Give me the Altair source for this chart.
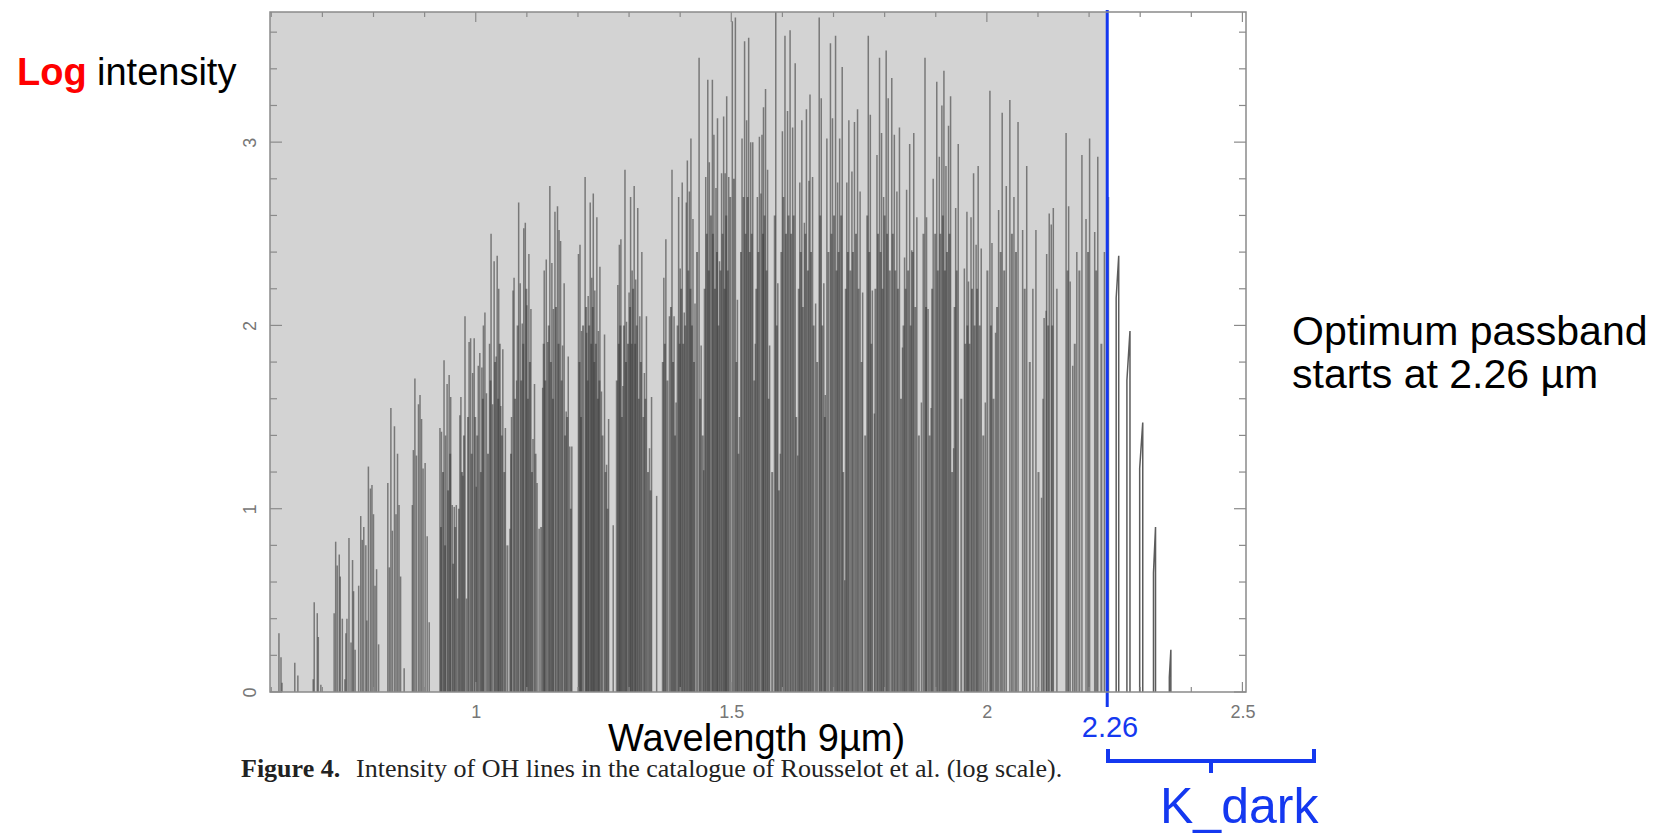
import altair as alt
import pandas as pd

# ---------------- data ----------------
# (wavelength in micron, log intensity) of the stronger OH lines
lines_a = [  # 0.6 - 1.08 micron
    (0.615, 0.32), (0.619, 0.19), (0.621, 0.05), (0.646, 0.16), (0.652, 0.09),
    (0.682, 0.07), (0.684, 0.49), (0.690, 0.43), (0.692, 0.30), (0.697, 0.04),
    (0.723, 0.43), (0.726, 0.82), (0.729, 0.69), (0.733, 0.75), (0.735, 0.63),
    (0.739, 0.40), (0.744, 0.07), (0.746, 0.32), (0.748, 0.40), (0.752, 0.84),
    (0.756, 0.27), (0.759, 0.72), (0.761, 0.55), (0.764, 0.23), (0.771, 0.58),
    (0.775, 0.96), (0.778, 0.83), (0.781, 0.90), (0.785, 0.80), (0.787, 0.39),
    (0.790, 1.23), (0.794, 1.11), (0.797, 1.13), (0.800, 0.97), (0.803, 0.58),
    (0.806, 0.67), (0.810, 0.26), (0.828, 1.14), (0.831, 0.68), (0.834, 1.55),
    (0.837, 0.88), (0.841, 1.45), (0.844, 0.97), (0.847, 1.30), (0.850, 1.02),
    (0.853, 0.63), (0.860, 0.13), (0.876, 1.02), (0.878, 1.32), (0.881, 1.71),
    (0.884, 1.29), (0.888, 1.57), (0.891, 1.62), (0.894, 1.49), (0.897, 1.22),
    (0.901, 1.25), (0.905, 0.85), (0.909, 0.38), (0.930, 1.44), (0.933, 1.42),
    (0.938, 1.81), (0.941, 1.40), (0.944, 1.68), (0.948, 1.73), (0.951, 1.61),
    (0.954, 1.02), (0.958, 1.01), (0.962, 1.02), (0.965, 0.51), (0.969, 1.51),
    (0.971, 1.61), (0.975, 1.18), (0.979, 2.05), (0.982, 0.51), (0.987, 1.91),
    (0.990, 1.93), (0.994, 1.74), (0.997, 1.93), (1.001, 1.12), (1.005, 1.78),
    (1.008, 1.85), (1.012, 1.77), (1.015, 2.00), (1.018, 2.07), (1.021, 1.63),
    (1.027, 1.90), (1.030, 2.50), (1.033, 1.57), (1.036, 2.35), (1.040, 1.83),
    (1.042, 2.38), (1.045, 2.20), (1.049, 1.56), (1.053, 1.87), (1.058, 1.44),
    (1.067, 0.89), (1.070, 1.50), (1.073, 2.19), (1.075, 2.26),
]
lines_b = [  # 1.08 - 1.555 micron
    (1.080, 1.70), (1.084, 2.67), (1.087, 2.23), (1.091, 2.01), (1.094, 2.53),
    (1.097, 2.56), (1.100, 2.11), (1.104, 2.39), (1.108, 2.09), (1.112, 1.38),
    (1.115, 1.68), (1.120, 1.14), (1.124, 0.89), (1.131, 1.66), (1.134, 2.30),
    (1.138, 2.36), (1.141, 1.91), (1.145, 2.76), (1.149, 2.34), (1.152, 2.09),
    (1.155, 2.62), (1.160, 2.65), (1.163, 2.52), (1.166, 2.46), (1.170, 1.89),
    (1.173, 2.23), (1.177, 1.53), (1.181, 1.83), (1.184, 1.34), (1.188, 1.34),
    (1.201, 2.39), (1.204, 2.44), (1.207, 1.97), (1.214, 2.81), (1.217, 1.96),
    (1.220, 2.16), (1.224, 2.67), (1.227, 2.26), (1.230, 2.72), (1.233, 2.19),
    (1.237, 2.59), (1.240, 1.97), (1.243, 2.32), (1.246, 1.64), (1.252, 1.95),
    (1.256, 1.24), (1.260, 1.49), (1.269, 0.91), (1.278, 2.22), (1.281, 2.44),
    (1.284, 2.47), (1.288, 1.67), (1.292, 2.85), (1.295, 2.02), (1.300, 2.18),
    (1.303, 2.70), (1.306, 2.30), (1.310, 2.76), (1.313, 2.25), (1.317, 2.64),
    (1.321, 2.05), (1.325, 2.40), (1.330, 1.74), (1.334, 2.05), (1.340, 1.33),
    (1.344, 1.61), (1.354, 1.07), (1.368, 2.26), (1.372, 2.47), (1.379, 2.05),
    (1.384, 2.85), (1.388, 2.05), (1.392, 1.58), (1.397, 2.70), (1.400, 2.31),
    (1.404, 2.78), (1.408, 2.07), (1.412, 2.67), (1.414, 2.90), (1.418, 2.73),
    (1.421, 3.02), (1.425, 2.58), (1.429, 2.12), (1.437, 3.46), (1.441, 1.89),
    (1.446, 1.21), (1.450, 2.81), (1.454, 3.34), (1.457, 2.89), (1.463, 3.34),
    (1.466, 3.04), (1.470, 2.75), (1.473, 3.13), (1.477, 2.35), (1.481, 2.83),
    (1.485, 3.14), (1.488, 2.83), (1.491, 3.25), (1.495, 2.81), (1.502, 3.66),
    (1.508, 3.68), (1.512, 2.14), (1.516, 1.50), (1.521, 3.02), (1.526, 3.55),
    (1.530, 3.12), (1.534, 3.57), (1.538, 3.00), (1.542, 3.00), (1.547, 1.90),
    (1.551, 2.70), (1.555, 3.03),
]
lines_c = [  # 1.555 - 2.03 micron
    (1.558, 2.72), (1.560, 3.04), (1.563, 3.19), (1.567, 3.29), (1.571, 2.85),
    (1.575, 1.89), (1.587, 3.71), (1.591, 2.23), (1.596, 1.30), (1.600, 3.06),
    (1.605, 3.58), (1.610, 3.17), (1.615, 3.61), (1.620, 3.08), (1.625, 3.43),
    (1.630, 1.29), (1.634, 2.78), (1.638, 3.12), (1.643, 2.56), (1.647, 3.18),
    (1.652, 2.79), (1.654, 3.26), (1.659, 2.81), (1.665, 2.12), (1.672, 3.68),
    (1.676, 3.24), (1.681, 2.23), (1.684, 1.62), (1.687, 3.02), (1.694, 3.54),
    (1.698, 3.13), (1.704, 3.58), (1.708, 2.78), (1.712, 3.02), (1.717, 3.41),
    (1.722, 0.61), (1.726, 2.78), (1.730, 3.12), (1.736, 2.84), (1.741, 3.11),
    (1.747, 3.18), (1.752, 2.73), (1.757, 2.18), (1.768, 3.58), (1.772, 3.15),
    (1.776, 2.19), (1.780, 1.52), (1.785, 2.93), (1.790, 3.46), (1.794, 3.05),
    (1.798, 2.70), (1.803, 3.50), (1.807, 3.24), (1.814, 3.35), (1.819, 3.04),
    (1.824, 2.73), (1.829, 3.08), (1.835, 1.88), (1.839, 2.37), (1.843, 2.74),
    (1.849, 2.99), (1.853, 2.41), (1.857, 3.05), (1.863, 2.59), (1.872, 1.58),
    (1.879, 3.46), (1.882, 2.59), (1.885, 2.09), (1.891, 1.55), (1.895, 2.80),
    (1.902, 3.33), (1.907, 2.92), (1.912, 3.20), (1.916, 3.39), (1.920, 2.87),
    (1.925, 3.09), (1.929, 3.25), (1.935, 1.33), (1.939, 2.64), (1.944, 2.99),
    (1.956, 2.31), (1.961, 2.62), (1.964, 2.24), (1.969, 2.59), (1.974, 2.83),
    (1.979, 2.44), (1.983, 2.87), (1.989, 2.42), (1.997, 1.58), (2.006, 3.28),
    (2.010, 2.45), (2.017, 1.96), (2.023, 2.63), (2.030, 3.16),
]
lines_d = [  # 2.03 - 2.24 micron
    (2.038, 2.76), (2.045, 3.23), (2.053, 2.70), (2.061, 3.11), (2.070, 2.52),
    (2.078, 2.87), (2.090, 2.20), (2.096, 2.52), (2.107, 1.06), (2.110, 1.60),
    (2.112, 2.04), (2.116, 2.08), (2.117, 2.39), (2.122, 2.61), (2.126, 2.55),
    (2.130, 2.64), (2.137, 2.20), (2.155, 3.05), (2.160, 2.65), (2.163, 2.24),
    (2.168, 1.78), (2.176, 2.40), (2.186, 2.93), (2.194, 2.58), (2.201, 3.02),
    (2.211, 2.51), (2.217, 2.92), (2.230, 2.40), (2.238, 2.70),
]
# weaker lines that make up the dark lower part of each band (estimated)
weak_a = [
    (0.932, 0.9), (0.936, 1.2), (0.940, 0.8), (0.946, 1.1), (0.950, 1.3), (0.956, 0.7),
    (0.960, 0.9), (0.967, 1.0), (0.973, 1.2), (0.977, 1.4), (0.985, 1.5), (0.992, 1.3),
    (0.999, 1.5), (1.003, 1.4), (1.010, 1.2), (1.014, 1.6), (1.024, 1.3), (1.029, 1.7),
    (1.038, 1.8), (1.044, 1.6), (1.047, 1.9), (1.051, 1.4), (1.056, 1.2), (1.062, 0.8),
    (1.069, 1.3), (1.077, 1.6),
]
weak_b = [
    (1.082, 2.0), (1.089, 1.7), (1.093, 1.9), (1.099, 2.2), (1.102, 1.6), (1.106, 1.8),
    (1.110, 1.2), (1.117, 1.3), (1.128, 0.9), (1.133, 1.9), (1.136, 1.7), (1.143, 2.0),
    (1.147, 1.8), (1.151, 1.6), (1.157, 2.1), (1.162, 1.9), (1.168, 1.7), (1.175, 1.4),
    (1.179, 1.5), (1.186, 1.0), (1.203, 1.8), (1.206, 1.5), (1.210, 2.0), (1.216, 2.1),
    (1.219, 1.7), (1.222, 2.0), (1.226, 1.9), (1.229, 2.1), (1.232, 1.8), (1.235, 1.9),
    (1.239, 1.6), (1.242, 1.7), (1.248, 1.4), (1.254, 1.2), (1.258, 1.0), (1.276, 1.7),
    (1.280, 1.9), (1.283, 2.0), (1.286, 1.5), (1.290, 2.0), (1.294, 1.8), (1.298, 1.9),
    (1.302, 2.1), (1.305, 1.9), (1.308, 2.2), (1.312, 1.9), (1.315, 2.0), (1.319, 1.6),
    (1.323, 1.8), (1.328, 1.5), (1.332, 1.6), (1.337, 1.2), (1.342, 1.1), (1.366, 1.8),
    (1.370, 1.9), (1.375, 1.7), (1.382, 2.1), (1.386, 1.8), (1.390, 1.4), (1.395, 2.0),
    (1.399, 1.9), (1.402, 2.2), (1.406, 1.9), (1.410, 2.0), (1.416, 2.3), (1.420, 2.2),
    (1.423, 2.0), (1.427, 1.8), (1.433, 2.4), (1.439, 1.6), (1.444, 1.4), (1.448, 2.2),
    (1.452, 2.5), (1.456, 2.3), (1.460, 2.6), (1.464, 2.5), (1.468, 2.2), (1.472, 2.4),
    (1.475, 2.0), (1.479, 2.3), (1.483, 2.5), (1.487, 2.2), (1.490, 2.6), (1.493, 2.3),
    (1.498, 2.7), (1.505, 2.8), (1.510, 1.8), (1.514, 1.3), (1.519, 2.4), (1.524, 2.7),
    (1.528, 2.5), (1.532, 2.7), (1.536, 2.4), (1.540, 2.5), (1.545, 1.7), (1.549, 2.2),
    (1.553, 2.4),
]
weak_c = [
    (1.562, 2.5), (1.565, 2.6), (1.569, 2.3), (1.573, 1.6), (1.580, 1.2), (1.585, 2.6),
    (1.589, 2.0), (1.593, 1.1), (1.598, 2.4), (1.602, 2.7), (1.607, 2.5), (1.612, 2.6),
    (1.617, 2.5), (1.622, 2.6), (1.627, 1.5), (1.632, 2.2), (1.636, 2.4), (1.640, 2.1),
    (1.645, 2.5), (1.650, 2.3), (1.656, 2.4), (1.661, 2.0), (1.668, 1.8), (1.674, 2.6),
    (1.678, 2.0), (1.683, 1.5), (1.690, 2.4), (1.696, 2.5), (1.701, 2.6), (1.706, 2.3),
    (1.710, 2.4), (1.715, 2.6), (1.719, 1.2), (1.724, 2.2), (1.728, 2.4), (1.733, 2.3),
    (1.738, 2.4), (1.744, 2.5), (1.749, 2.2), (1.755, 1.8), (1.762, 1.4), (1.766, 2.6),
    (1.770, 2.4), (1.774, 1.9), (1.782, 2.2), (1.787, 2.5), (1.792, 2.4), (1.796, 2.2),
    (1.800, 2.6), (1.805, 2.5), (1.810, 2.3), (1.816, 2.5), (1.821, 2.3), (1.826, 2.2),
    (1.832, 1.6), (1.837, 2.0), (1.841, 2.2), (1.846, 2.3), (1.851, 2.0), (1.855, 2.4),
    (1.860, 2.1), (1.867, 1.4), (1.876, 2.5), (1.881, 2.1), (1.888, 1.4), (1.893, 2.2),
    (1.899, 2.5), (1.904, 2.3), (1.909, 2.5), (1.914, 2.6), (1.918, 2.3), (1.922, 2.4),
    (1.927, 2.5), (1.932, 1.2), (1.937, 2.1), (1.941, 2.3), (1.950, 1.6), (1.958, 1.9),
    (1.962, 2.0), (1.966, 1.9), (1.971, 2.2), (1.976, 2.0), (1.981, 2.2), (1.986, 2.0),
    (1.993, 1.4), (2.001, 2.3), (2.008, 2.0), (2.013, 1.6), (2.020, 2.1), (2.027, 2.4),
]
weak_d = [
    (2.034, 2.3), (2.049, 2.5), (2.057, 2.4), (2.074, 2.2), (2.084, 1.8), (2.101, 1.2),
    (2.120, 2.0), (2.128, 2.0), (2.158, 2.3), (2.172, 1.9), (2.181, 2.3), (2.198, 2.4),
    (2.214, 2.3), (2.224, 1.9),
]
# close blends beyond the cut, joined at their tops
blend_w1 = [2.253, 2.274, 2.299, 2.326, 2.357]
blend_h1 = [2.15, 1.70, 1.22, 0.65, 0.08]
blend_w2 = [2.258, 2.280, 2.305, 2.330, 2.360]
blend_h2 = [2.38, 1.97, 1.47, 0.90, 0.23]

x_labels = [1, 1.5, 2, 2.5]
y_labels = [0, 1, 2, 3]
x_minor = [0.6, 0.7, 0.8, 0.9, 1.1, 1.2, 1.3, 1.4, 1.6, 1.7, 1.8, 1.9, 2.1, 2.2, 2.3, 2.4]
x_major = [1.0, 1.5, 2.0, 2.5]
y_minor = [0.2, 0.4, 0.6, 0.8, 1.2, 1.4, 1.6, 1.8, 2.2, 2.4, 2.6, 2.8, 3.2, 3.4, 3.6]
y_major = [0, 1, 2, 3]

x_range = [0.5975, 2.507]
y_range = [0, 3.71]
cut_drawn = 2.2355          # where the blue marker is drawn
cut_label = "2.26"

# ---------------- chart ----------------
W, H = 976, 680
xs = alt.Scale(domain=x_range, nice=False, zero=False)
ys = alt.Scale(domain=y_range, nice=False, zero=False)

sticks = pd.DataFrame(lines_a + lines_b + lines_c + lines_d, columns=["wl", "logI"])
weak = pd.DataFrame(weak_a + weak_b + weak_c + weak_d, columns=["wl", "logI"])

rows = []
for i in range(len(blend_w1)):
    rows += [
        {"id": i, "o": 0, "wl": blend_w1[i], "logI": 0},
        {"id": i, "o": 1, "wl": blend_w1[i], "logI": blend_h1[i]},
        {"id": i, "o": 2, "wl": blend_w2[i], "logI": blend_h2[i]},
        {"id": i, "o": 3, "wl": blend_w2[i], "logI": 0},
    ]
blends = pd.DataFrame(rows)
one = alt.Data(values=[{}])

bg = alt.Chart(one).mark_rect(color="#d3d3d3").encode(
    x=alt.X(datum=x_range[0], type="quantitative", scale=xs,
            axis=alt.Axis(values=x_labels, format="~g", title="", domain=False, ticks=False,
                          grid=False, labelFontSize=18, labelColor="#767676",
                          labelFont="Liberation Sans", labelPadding=11)),
    x2=alt.datum(cut_drawn),
    y=alt.Y(datum=y_range[0], type="quantitative", scale=ys,
            axis=alt.Axis(values=y_labels, format="~g", title="", domain=False, ticks=False,
                          grid=False, labelFontSize=18, labelColor="#767676",
                          labelFont="Liberation Sans", labelAngle=270, labelAlign="center",
                          labelBaseline="alphabetic", labelPadding=15)),
    y2=alt.datum(y_range[1]),
)

weak_layer = alt.Chart(weak).mark_rule(color="#3c3c3c", opacity=0.6, strokeWidth=2.0).encode(
    x=alt.X("wl:Q", scale=xs),
    y=alt.Y("logI:Q", scale=ys),
    y2=alt.datum(0),
)

stick_layer = alt.Chart(sticks).mark_rule(color="#3c3c3c", opacity=0.6, strokeWidth=1.5).encode(
    x=alt.X("wl:Q", scale=xs),
    y=alt.Y("logI:Q", scale=ys),
    y2=alt.datum(0),
)

blend_layer = alt.Chart(blends).mark_line(color="#333333", opacity=0.8, strokeWidth=1.5).encode(
    x=alt.X("wl:Q", scale=xs),
    y=alt.Y("logI:Q", scale=ys),
    detail="id:N",
    order="o:Q",
)

frame = alt.Chart(one).mark_rect(filled=False, stroke="#8a8a8a", strokeWidth=1.5).encode(
    x=alt.value(0), x2=alt.value(W), y=alt.value(0), y2=alt.value(H)
)

tick_style = dict(color="#8a8a8a", strokeWidth=1.2)
xmin_df = pd.DataFrame({"t": x_minor})
xmaj_df = pd.DataFrame({"t": x_major})
ymin_df = pd.DataFrame({"t": y_minor})
ymaj_df = pd.DataFrame({"t": y_major})
ticks = [
    alt.Chart(xmin_df).mark_rule(**tick_style).encode(x=alt.X("t:Q", scale=xs), y=alt.value(H), y2=alt.value(H - 5)),
    alt.Chart(xmin_df).mark_rule(**tick_style).encode(x=alt.X("t:Q", scale=xs), y=alt.value(0), y2=alt.value(5)),
    alt.Chart(xmaj_df).mark_rule(**tick_style).encode(x=alt.X("t:Q", scale=xs), y=alt.value(H), y2=alt.value(H - 10)),
    alt.Chart(xmaj_df).mark_rule(**tick_style).encode(x=alt.X("t:Q", scale=xs), y=alt.value(0), y2=alt.value(10)),
    alt.Chart(ymin_df).mark_rule(**tick_style).encode(y=alt.Y("t:Q", scale=ys), x=alt.value(0), x2=alt.value(7)),
    alt.Chart(ymin_df).mark_rule(**tick_style).encode(y=alt.Y("t:Q", scale=ys), x=alt.value(W), x2=alt.value(W - 7)),
    alt.Chart(ymaj_df).mark_rule(**tick_style).encode(y=alt.Y("t:Q", scale=ys), x=alt.value(0), x2=alt.value(12)),
    alt.Chart(ymaj_df).mark_rule(**tick_style).encode(y=alt.Y("t:Q", scale=ys), x=alt.value(W), x2=alt.value(W - 12)),
]

BLUE = "#1438f0"
cut_rule = alt.Chart(one).mark_rule(color=BLUE, strokeWidth=3).encode(
    x=alt.X(datum=cut_drawn, type="quantitative", scale=xs), y=alt.value(-2), y2=alt.value(695)
)

def txt(text, x, y, size, color="black", weight="normal", font="Liberation Sans", align="left"):
    return alt.Chart(one).mark_text(text=text, fontSize=size, color=color, fontWeight=weight,
                                    font=font, align=align, baseline="alphabetic").encode(
        x=alt.value(x), y=alt.value(y))

bracket = [
    alt.Chart(one).mark_rule(color=BLUE, strokeWidth=4).encode(x=alt.value(836), x2=alt.value(1046), y=alt.value(749)),
    alt.Chart(one).mark_rule(color=BLUE, strokeWidth=4).encode(x=alt.value(838), y=alt.value(737), y2=alt.value(751)),
    alt.Chart(one).mark_rule(color=BLUE, strokeWidth=4).encode(x=alt.value(1044), y=alt.value(737), y2=alt.value(751)),
    alt.Chart(one).mark_rule(color=BLUE, strokeWidth=4).encode(x=alt.value(941), y=alt.value(747), y2=alt.value(761)),
]

texts = [
    txt("Log", -253, 73, 38, color="#ff0000", weight="bold"),
    txt("intensity", -173, 73, 38),
    txt("Optimum passband", 1022, 333, 41),
    txt("starts at 2.26 µm", 1022, 376, 41),
    txt("Wavelength 9µm)", 338, 739, 38),
    txt(cut_label, 840, 725, 29, color=BLUE, align="center"),
    txt("K_dark", 890, 811, 50, color=BLUE),
    txt("Figure 4.", -29, 765, 26, color="#222222", weight="bold", font="Liberation Serif"),
    txt("Intensity of OH lines in the catalogue of Rousselot et al. (log scale).", 86, 765, 26,
        color="#222222", font="Liberation Serif"),
]

chart = alt.layer(bg, weak_layer, stick_layer, blend_layer, cut_rule, *ticks, frame, *bracket, *texts).properties(
    width=W, height=H,
    autosize=alt.AutoSizeParams(type="none"),
    padding={"left": 262, "top": 4, "right": 417, "bottom": 143},
).configure_view(stroke="transparent")

chart.save("out.html", embed_options={"renderer": "svg", "actions": False})
